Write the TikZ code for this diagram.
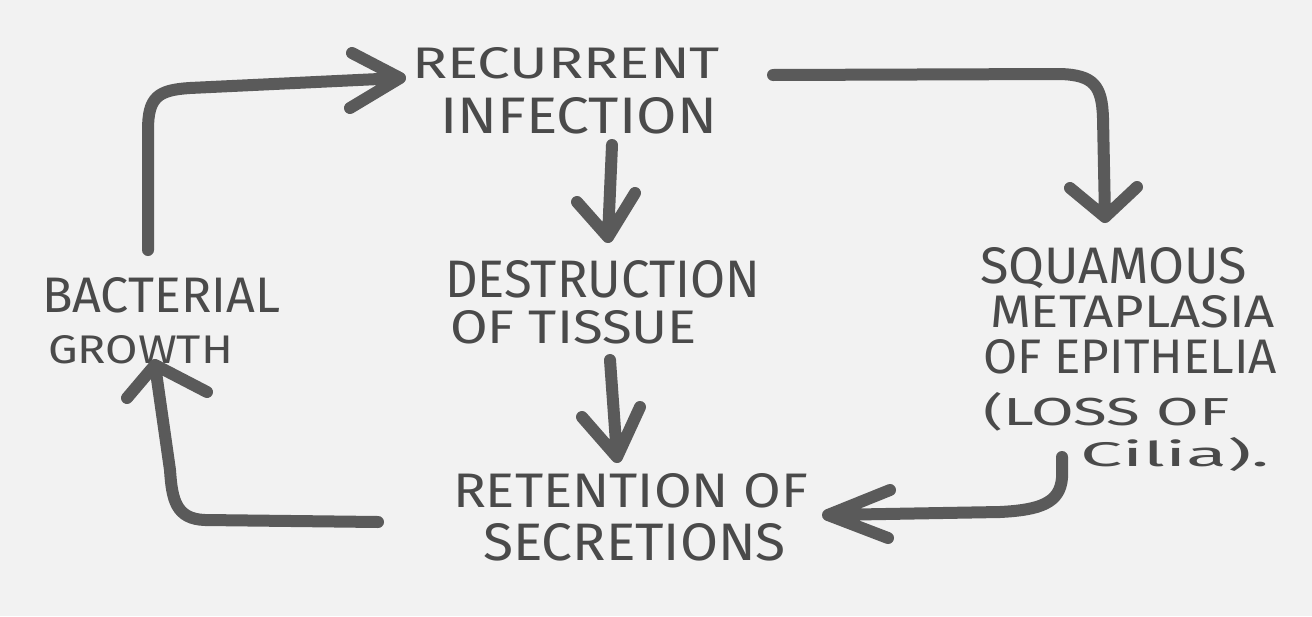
\documentclass[tikz,border=0pt]{standalone}
\usepackage{fontspec}
\setmainfont{Fira Sans}
\usepackage{graphicx}
\definecolor{paper}{HTML}{F2F2F2}
\definecolor{ink}{HTML}{5A5A5A}
\definecolor{pen}{HTML}{4A4A4A}
\newcommand{\hl}[3]{\resizebox{#1pt}{#2pt}{#3}}
\setlength{\lineskiplimit}{-1000pt}
\tikzset{
  conn/.style={draw=ink, line width=12pt, line cap=round, line join=round},
  lbl/.style={anchor=north west, inner sep=0pt, outer sep=0pt, align=left, text=pen,
              font=\fontsize{20}{44}\selectfont},
}
\begin{document}
\begin{tikzpicture}[x=1pt,y=-1pt]
\fill[paper] (0,0) rectangle (1312,616);
\useasboundingbox (0,0) rectangle (1312,616);

% labels
\node[lbl] (rec) at (412,47) {\hl{308}{31}{RECURRENT}\\[11pt]\hspace*{28pt}\hl{277}{36}{INFECTION}};
\node[lbl] (des) at (445,260) {\hl{315}{37}{DESTRUCTION}\\[2pt]\hspace*{5pt}\hl{247}{33}{OF TISSUE}};
\node[lbl] (ret) at (453,473) {\hl{355}{34}{RETENTION OF}\\[9pt]\hspace*{30pt}\hl{303}{37}{SECRETIONS}};
\node[lbl] (bac) at (42,277) {\hl{238}{35}{BACTERIAL}\\[7pt]\hspace*{6pt}\hl{185}{28}{GROWTH}};
\node[lbl] (squ) at (980,247) {\hl{267}{36}{SQUAMOUS}\\[0pt]\hspace*{10pt}\hl{285}{32}{METAPLASIA}\\[2pt]\hspace*{3pt}\hl{294}{34}{OF EPITHELIA}\\[8pt]\hspace*{3pt}\hl{247}{33}{(LOSS OF}\\[-3pt]\hspace*{100pt}\hl{190}{29}{Cilia).}};

% connector end points
\coordinate (bacS) at (148,250);
\coordinate (recT) at (400,78);
\coordinate (recS) at (773,75);
\coordinate (squT) at (1105,217);
\coordinate (recD) at (612,145);
\coordinate (desT) at (608,237);
\coordinate (desS) at (610,360);
\coordinate (retT) at (617,457);
\coordinate (squS) at (1062,457);
\coordinate (retR) at (828,515);
\coordinate (retS) at (378,522);
\coordinate (bacT) at (155,365);

% bacterial growth -> recurrent infection
\draw[conn] (bacS) -- (148,130) .. controls (148,97) and (158,90) .. (190,88) -- (recT)
  (recT) -- (352,53) (recT) -- (350,108);
% recurrent infection -> squamous metaplasia
\draw[conn] (recS) -- (1060,74) .. controls (1094,75) and (1102,86) .. (1103,118) -- (squT)
  (squT) -- (1070,188) (squT) -- (1137,187);
% recurrent infection -> destruction of tissue
\draw[conn] (recD) -- (desT) (desT) -- (577,202) (desT) -- (635,193);
% destruction of tissue -> retention of secretions
\draw[conn] (desS) -- (retT) (retT) -- (582,417) (retT) -- (640,407);
% squamous metaplasia -> retention of secretions
\draw[conn] (squS) -- (1062,478) .. controls (1060,503) and (1040,510) .. (1000,512) -- (retR)
  (retR) -- (890,490) (retR) -- (888,538);
% retention of secretions -> bacterial growth
\draw[conn] (retS) -- (205,520) .. controls (176,519) and (172,500) .. (170,470) -- (bacT)
  (bacT) -- (127,398) (bacT) -- (207,392);
\end{tikzpicture}
\end{document}
